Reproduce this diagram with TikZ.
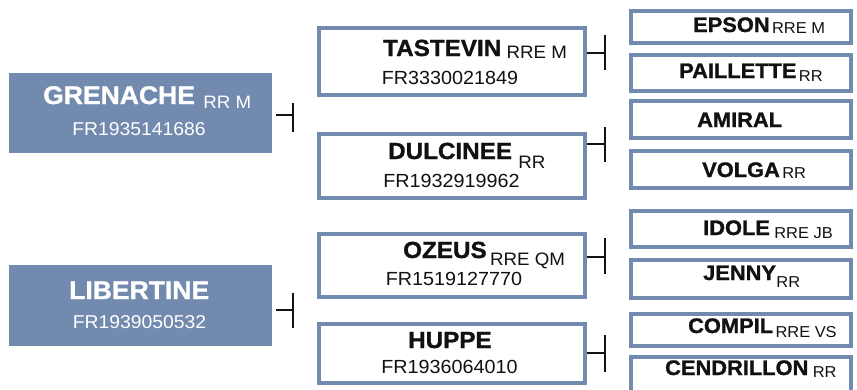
\documentclass[tikz,border=0pt]{standalone}
\usepackage{fontspec}
\setmainfont{Liberation Sans}[FakeStretch=1.04, BoldFeatures={FakeBold=1.2, FakeStretch=1.04}]
\definecolor{slate}{RGB}{113,138,174}
\definecolor{ink}{RGB}{17,17,17}
\newcommand\fBigN{\fontsize{25.5}{25.5}\selectfont\bfseries}
\newcommand\fBigS{\fontsize{18}{18}\selectfont}
\newcommand\fBigC{\fontsize{18.6}{18.6}\selectfont}
\newcommand\fMidN{\fontsize{23.3}{23.3}\selectfont\bfseries}
\newcommand\fMidS{\fontsize{18}{18}\selectfont}
\newcommand\fMidC{\fontsize{19}{19}\selectfont}
\newcommand\fRgtN{\fontsize{21}{21}\selectfont\bfseries}
\newcommand\fRgtS{\fontsize{15.8}{15.8}\selectfont}
\begin{document}
\begin{tikzpicture}[x=1pt,y=-1pt,
  bigbox/.style={rectangle, fill=slate, draw=none, inner sep=0pt},
  framebox/.style={rectangle, draw=slate, line width=4pt, fill=white, inner sep=0pt},
  midbox/.style={framebox, minimum width=266pt},
  rgtbox/.style={framebox, minimum width=220pt},
  lbl/.style={anchor=base west, inner sep=0pt, text=ink},
  code/.style={anchor=base, inner sep=0pt, text=ink},
  tee/.style={draw=ink, line width=1.6pt}]
\useasboundingbox (0,0) rectangle (857,389);
\clip (0,0) rectangle (857,389);
\fill[white] (0,0) rectangle (857,389);

% ---- left boxes
\node[bigbox, minimum width=263pt, minimum height=80pt] (gre) at (140.5,113) {};
\node[bigbox, minimum width=263pt, minimum height=81pt] (lib) at (140.5,305.5) {};
\node[lbl, text=white, font=\fBigN] (greN) at (43,104) {GRENACHE};
\node[lbl, text=white, font=\fBigS] (greS) at ([shift={(8,4)}]greN.base east) {RR M};
\node[code, text=white, font=\fBigC] (greC) at (139,135) {FR1935141686};
\node[lbl, text=white, font=\fBigN] (libN) at (69,299) {LIBERTINE};
\node[code, text=white, font=\fBigC] (libC) at (139.5,328) {FR1939050532};

% ---- middle boxes
\node[midbox, minimum height=67pt] (tas) at (452,61.5) {};
\node[midbox, minimum height=64pt] (dul) at (452,166) {};
\node[midbox, minimum height=63pt] (oze) at (452,265.5) {};
\node[midbox, minimum height=59pt] (hup) at (452,353.5) {};
\node[lbl, font=\fMidN] (tasN) at (383,56) {TASTEVIN};
\node[lbl, font=\fMidS] (tasS) at ([shift={(5,2)}]tasN.base east) {RRE M};
\node[code, font=\fMidC] (tasC) at (450,84) {FR3330021849};
\node[lbl, font=\fMidN] (dulN) at (388,159) {DULCINEE};
\node[lbl, font=\fMidS] (dulS) at ([shift={(6,9)}]dulN.base east) {RR};
\node[code, font=\fMidC] (dulC) at (451.5,187) {FR1932919962};
\node[lbl, font=\fMidN] (ozeN) at (403,258) {OZEUS};
\node[lbl, font=\fMidS] (ozeS) at ([shift={(3,7)}]ozeN.base east) {RRE QM};
\node[code, font=\fMidC] (ozeC) at (454,285) {FR1519127770};
\node[lbl, font=\fMidN] (hupN) at (408,348) {HUPPE};
\node[code, font=\fMidC] (hupC) at (449.5,373) {FR1936064010};

% ---- right boxes
\node[rgtbox, minimum height=32pt] (eps) at (741,27) {};
\node[rgtbox, minimum height=36pt] (pai) at (741,73) {};
\node[rgtbox, minimum height=37pt] (ami) at (741,119.5) {};
\node[rgtbox, minimum height=37pt] (vol) at (741,169.5) {};
\node[rgtbox, minimum height=36pt] (ido) at (741,229) {};
\node[rgtbox, minimum height=38pt] (jen) at (741,279) {};
\node[rgtbox, minimum height=32pt] (com) at (741,330) {};
\node[rgtbox, minimum height=36pt] (cen) at (741,375) {};
\node[lbl, font=\fRgtN] (epsN) at (693,32) {EPSON};
\node[lbl, font=\fRgtS] (epsS) at ([shift={(2,1)}]epsN.base east) {RRE M};
\node[lbl, font=\fRgtN] (paiN) at (679,78) {PAILLETTE};
\node[lbl, font=\fRgtS] (paiS) at ([shift={(2,3)}]paiN.base east) {RR};
\node[lbl, font=\fRgtN] (amiN) at (697,127) {AMIRAL};
\node[lbl, font=\fRgtN] (volN) at (702,177) {VOLGA};
\node[lbl, font=\fRgtS] (volS) at ([shift={(2,1)}]volN.base east) {RR};
\node[lbl, font=\fRgtN] (idoN) at (703,235) {IDOLE};
\node[lbl, font=\fRgtS] (idoS) at ([shift={(4,3)}]idoN.base east) {RRE JB};
\node[lbl, font=\fRgtN] (jenN) at (703,280) {JENNY};
\node[lbl, font=\fRgtS] (jenS) at ([shift={(0,7)}]jenN.base east) {RR};
\node[lbl, font=\fRgtN] (comN) at (688,333) {COMPIL};
\node[lbl, font=\fRgtS] (comS) at ([shift={(2,4)}]comN.base east) {RRE VS};
\node[lbl, font=\fRgtN] (cenN) at (665,375) {CENDRILLON};
\node[lbl, font=\fRgtS] (cenS) at ([shift={(4,2)}]cenN.base east) {RR};

% ---- tee connectors
\coordinate (greA) at (276,115);  \coordinate (greT) at (293,115);
\coordinate (greU) at (293,103);  \coordinate (greD) at (293,132);
\coordinate (libA) at (276,310);  \coordinate (libT) at (293,310);
\coordinate (libU) at (293,293);  \coordinate (libD) at (293,328);
\coordinate (tasA) at (587,53);   \coordinate (tasT) at (605,53);
\coordinate (tasU) at (605,35);   \coordinate (tasD) at (605,70);
\coordinate (dulA) at (587,144);  \coordinate (dulT) at (605,144);
\coordinate (dulU) at (605,127);  \coordinate (dulD) at (605,162);
\coordinate (ozeA) at (587,257);  \coordinate (ozeT) at (605,257);
\coordinate (ozeU) at (605,238);  \coordinate (ozeD) at (605,274);
\coordinate (hupA) at (587,353);  \coordinate (hupT) at (605,353);
\coordinate (hupU) at (605,335);  \coordinate (hupD) at (605,372);
\foreach \n in {gre,lib,tas,dul,oze,hup}{
  \draw[tee] (\n A) -- (\n T);
  \draw[tee] (\n U) -- (\n D);
}
\end{tikzpicture}
\end{document}
